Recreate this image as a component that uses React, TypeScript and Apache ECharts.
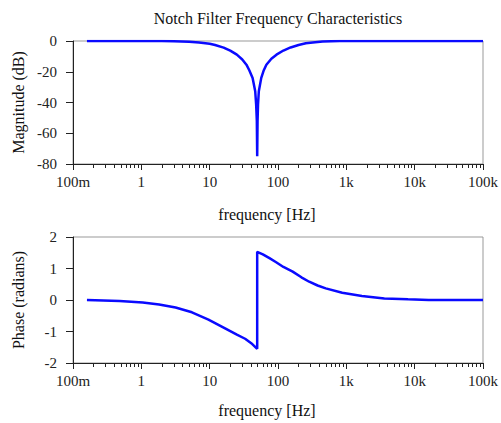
import React, { useEffect, useRef } from "react";
import * as echarts from "echarts";

// ---------- data ----------
const magFreq = [0.16, 0.5, 1, 2, 3, 5, 7, 10, 12, 16, 20, 25, 30, 34.5, 38, 42.5, 46.4, 47.9, 49, 49.6, 50.2, 51, 52.4, 56.9, 62, 67.6, 80, 95, 120, 153, 200, 255, 350, 450, 600, 800, 1000, 10000, 100000];
const magDb = [0, 0, 0, -0.05, -0.15, -0.5, -1.0, -1.8, -2.6, -4.3, -6.3, -8.9, -12, -15.4, -19, -24, -32.7, -41.4, -52, -75, -52, -41.4, -32.7, -24, -19, -15.4, -11.5, -8.9, -6.2, -4.2, -2.6, -1.5, -0.8, -0.3, -0.1, 0, 0, 0, 0];

const phaseFreq = [0.16, 0.48, 1.05, 1.82, 3.17, 5.5, 9.6, 16.8, 25, 33, 42, 49.6, 49.6, 60, 75, 94, 120, 164, 220, 286, 380, 500, 870, 1690, 3600, 8000, 16000, 100000];
const phaseRad = [0, -0.03, -0.08, -0.14, -0.24, -0.39, -0.62, -0.9, -1.1, -1.23, -1.4, -1.55, 1.53, 1.45, 1.33, 1.2, 1.05, 0.9, 0.72, 0.58, 0.46, 0.37, 0.23, 0.13, 0.05, 0.02, 0, 0];

const decadeLabels = ["100m", "1", "10", "100", "1k", "10k", "100k"];
const minorTickValues = [
  0.2, 0.3, 0.4, 0.5, 0.6, 0.7, 0.8, 0.9,
  2, 3, 4, 5, 6, 7, 8, 9,
  20, 30, 40, 50, 60, 70, 80, 90,
  200, 300, 400, 500, 600, 700, 800, 900,
  2000, 3000, 4000, 5000, 6000, 7000, 8000, 9000,
  20000, 30000, 40000, 50000, 60000, 70000, 80000, 90000,
];

const titleText = "Notch Filter Frequency Characteristics";
const xName = "frequency [Hz]";
const magName = "Magnitude (dB)";
const phaseName = "Phase (radians)";

const FONT = "Liberation Serif";
const BLUE = "#0a0aff";

function mainX(gridIndex: number, nameGap: number) {
  return {
    type: "log",
    logBase: 10,
    gridIndex,
    min: 0.1,
    max: 100000,
    name: xName,
    nameLocation: "middle",
    nameGap,
    nameTextStyle: { fontFamily: FONT, fontSize: 16, color: "#111", padding: [0, 22, 0, 0] },
    axisLine: { show: true, onZero: false, lineStyle: { color: "#222", width: 1 } },
    axisTick: { show: true, inside: false, length: 6, lineStyle: { color: "#222" } },
    axisLabel: {
      fontFamily: FONT,
      fontSize: 15,
      color: "#222",
      margin: 10,
      formatter: (v: number) => decadeLabels[Math.round(Math.log10(v)) + 1] ?? "",
    },
    splitLine: { show: false },
  };
}

function minorX(gridIndex: number) {
  return {
    type: "log",
    logBase: 10,
    gridIndex,
    min: 0.1,
    max: 100000,
    position: "bottom",
    axisLine: { show: false, onZero: false },
    axisTick: { show: true, inside: false, length: 4, customValues: minorTickValues, lineStyle: { color: "#222" } },
    axisLabel: { show: false },
    splitLine: { show: false },
  };
}

function yAx(gridIndex: number, min: number, max: number, interval: number, name: string) {
  return {
    type: "value",
    gridIndex,
    min,
    max,
    interval,
    name,
    nameLocation: "middle",
    nameRotate: 90,
    nameGap: 47,
    nameTextStyle: { fontFamily: FONT, fontSize: 16, color: "#111" },
    axisLine: { show: true, onZero: false, lineStyle: { color: "#222", width: 1 } },
    axisTick: { show: true, inside: false, length: 7, lineStyle: { color: "#222" } },
    axisLabel: { fontFamily: FONT, fontSize: 15, color: "#222", margin: 16 },
    splitLine: { show: false },
  };
}

export default function App() {
  const ref = useRef<HTMLDivElement>(null);
  useEffect(() => {
    if (!ref.current) return;
    const chart = echarts.init(ref.current, undefined, { renderer: "svg" });
    chart.setOption({
      animation: false,
      backgroundColor: "#fff",
      textStyle: { fontFamily: FONT },
      graphic: [
        {
          type: "text",
          x: 278,
          y: 18,
          style: {
            text: titleText,
            fontFamily: FONT,
            fontSize: 16,
            fill: "#111",
            textAlign: "center",
            textVerticalAlign: "middle",
          },
        },
      ],
      grid: [
        { left: 73, right: 14, top: 41, height: 123, show: true, borderColor: "#999", borderWidth: 1, backgroundColor: "transparent" },
        { left: 73, right: 14, top: 237, height: 126, show: true, borderColor: "#999", borderWidth: 1, backgroundColor: "transparent" },
      ],
      xAxis: [mainX(0, 42), minorX(0), mainX(1, 39), minorX(1)],
      yAxis: [yAx(0, -80, 0, 20, magName), yAx(1, -2, 2, 1, phaseName)],
      series: [
        {
          type: "line",
          xAxisIndex: 0,
          yAxisIndex: 0,
          data: magFreq.map((f, i) => [f, magDb[i]]),
          showSymbol: false,
          symbol: "none",
          lineStyle: { color: BLUE, width: 2.5 },
          clip: true,
        },
        {
          type: "line",
          xAxisIndex: 2,
          yAxisIndex: 1,
          data: phaseFreq.map((f, i) => [f, phaseRad[i]]),
          showSymbol: false,
          symbol: "none",
          lineStyle: { color: BLUE, width: 2.5 },
          clip: true,
        },
      ],
    });
    return () => chart.dispose();
  }, []);
  return <div ref={ref} style={{ position: "absolute", left: 0, top: 0, width: 501, height: 423 }} />;
}
